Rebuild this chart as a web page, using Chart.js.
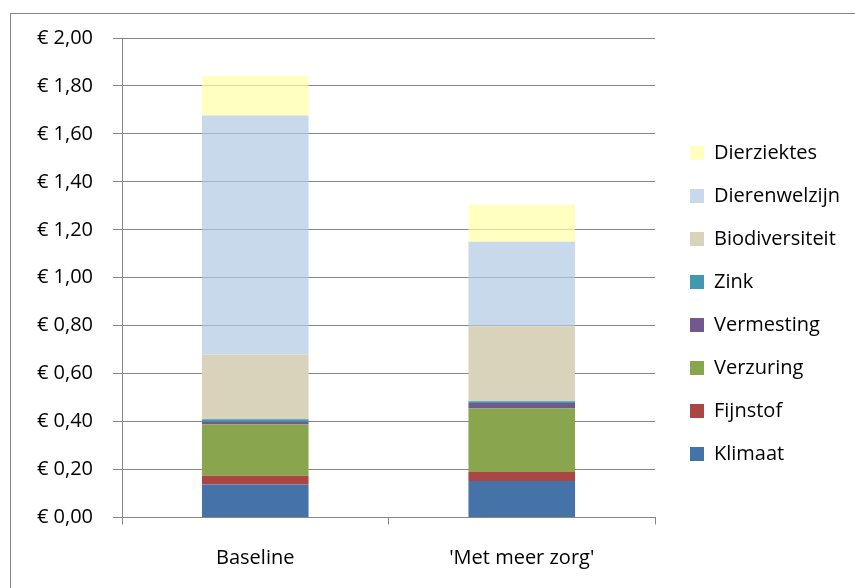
<!DOCTYPE html>
<html>
<head>
<meta charset="utf-8">
<script src="https://cdn.jsdelivr.net/npm/chart.js@4/dist/chart.umd.min.js"></script>
<style>
    html, body { margin: 0; padding: 0; background: #fff; overflow: hidden; }
    #frame {
        position: absolute; left: 10px; top: 13px; width: 900px; height: 700px;
        border-left: 1px solid #868686; border-top: 1px solid #868686;
    }
    #chart { position: absolute; left: 0; top: 0; }
</style>
</head>
<body>
<div id="frame"></div>
<canvas id="chart" width="855" height="588"></canvas>
<script>
const categories = ["Baseline", "'Met meer zorg'"];
const klimaat = [0.138, 0.152];
const fijnstof = [0.036, 0.038];
const verzuring = [0.214, 0.265];
const vermesting = [0.011, 0.023];
const zink = [0.011, 0.007];
const biodiversiteit = [0.27, 0.313];
const dierenwelzijn = [0.997, 0.352];
const dierziektes = [0.164, 0.154];
const yTicks = [0, 0.2, 0.4, 0.6, 0.8, 1.0, 1.2, 1.4, 1.6, 1.8, 2.0];

const gray = "#868686";
const font = { family: "Open Sans", size: 20 };

// legend keeps a fixed width and sits a bit right of the plot edge
const legendPlacer = {
    id: "legendPlacer",
    beforeLayout(chart) {
        const lg = chart.legend;
        if (lg && !lg._fixed) {
            const fit = lg.fit.bind(lg);
            lg.fit = function () {
                fit();
                this.width = 200;
            };
            lg._fixed = true;
        }
    },
    afterLayout(chart) {
        chart.legend.left += 12;
    },
};

new Chart(document.getElementById("chart"), {
    type: "bar",
    data: {
        labels: categories,
        datasets: [
            { label: "Klimaat", data: klimaat, backgroundColor: "#4572A7" },
            { label: "Fijnstof", data: fijnstof, backgroundColor: "#AA4643" },
            { label: "Verzuring", data: verzuring, backgroundColor: "#89A54E" },
            { label: "Vermesting", data: vermesting, backgroundColor: "#71588F" },
            { label: "Zink", data: zink, backgroundColor: "#4198AF" },
            { label: "Biodiversiteit", data: biodiversiteit, backgroundColor: "#D9D3BC" },
            { label: "Dierenwelzijn", data: dierenwelzijn, backgroundColor: "rgba(178, 201, 228, 0.7)" },
            { label: "Dierziektes", data: dierziektes, backgroundColor: "rgba(255, 255, 165, 0.7)" },
        ],
    },
    options: {
        responsive: false,
        animation: false,
        layout: { padding: { top: 38, bottom: 19, left: 0, right: 0 } },
        datasets: {
            bar: { barPercentage: 0.4, categoryPercentage: 1.0 },
        },
        plugins: {
            legend: {
                position: "right",
                reverse: true,
                labels: {
                    boxWidth: 14,
                    boxHeight: 14,
                    padding: 23,
                    color: "#000",
                    font: font,
                },
            },
            tooltip: { enabled: false },
        },
        scales: {
            x: {
                stacked: true,
                afterFit(scale) {
                    scale.height = 51.5;
                },
                grid: {
                    drawOnChartArea: false,
                    offset: true,
                    tickLength: 7,
                    color: gray,
                },
                border: { color: gray },
                ticks: { padding: 22, color: "#000", font: font },
            },
            y: {
                stacked: true,
                min: 0,
                max: 2,
                afterFit(scale) {
                    scale.width = 122;
                },
                afterBuildTicks(scale) {
                    scale.ticks = yTicks.map((v) => ({ value: v }));
                },
                grid: { color: gray, tickLength: 9 },
                border: { color: gray },
                ticks: {
                    padding: 20,
                    color: "#000",
                    font: font,
                    callback: (v) => "€ " + Number(v).toFixed(2).replace(".", ","),
                },
            },
        },
    },
    plugins: [legendPlacer],
});
</script>
</body>
</html>
